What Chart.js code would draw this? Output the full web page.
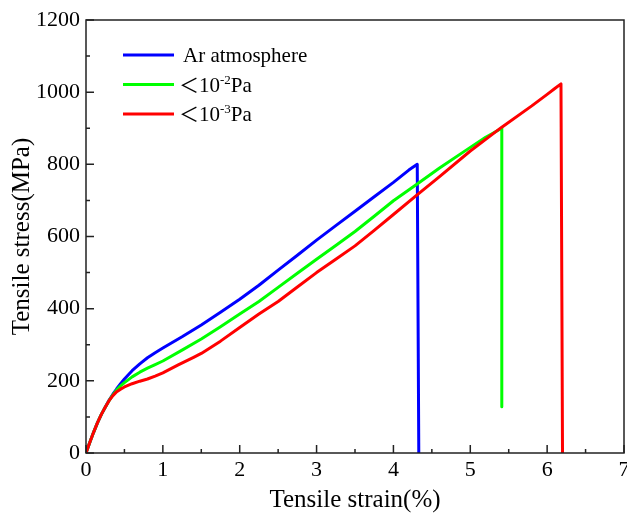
<!DOCTYPE html>
<html>
<head>
<meta charset="utf-8">
<title>Tensile stress-strain</title>
<style>
body { margin: 0; background: #fff; }
</style>
</head>
<body>
<canvas id="myChart" width="627" height="515"></canvas>
<script src="https://cdn.jsdelivr.net/npm/chart.js"></script>
<script>
// strain (%) / stress (MPa) for each condition
var arStrain = [0, 0.05, 0.1, 0.15, 0.2, 0.25, 0.3, 0.35, 0.4, 0.45, 0.5, 0.6, 0.7, 0.8, 0.9, 1.0, 1.25, 1.5, 1.75, 2.0, 2.25, 2.5, 2.75, 3.0, 3.25, 3.5, 3.75, 4.0, 4.2, 4.31, 4.33];
var arStress = [0, 30, 58, 84, 107, 127, 146, 163, 178, 192, 205, 228, 247, 264, 278, 291, 322, 355, 390, 426, 465, 507, 548, 590, 630, 670, 710, 750, 784, 800, 0];

var lowStrain = [0, 0.05, 0.1, 0.15, 0.2, 0.25, 0.3, 0.35, 0.4, 0.45, 0.5, 0.6, 0.7, 0.8, 0.9, 1.0, 1.25, 1.5, 1.75, 2.0, 2.25, 2.5, 2.75, 3.0, 3.25, 3.5, 3.75, 4.0, 4.3, 4.6, 5.0, 5.2, 5.41, 5.41];
var lowStress = [0, 30, 58, 84, 107, 127, 145, 161, 175, 186, 195, 211, 224, 235, 245, 255, 285, 316, 350, 385, 420, 459, 498, 537, 575, 614, 656, 699, 744, 790, 847, 875, 900, 128];

var highStrain = [0, 0.05, 0.1, 0.15, 0.2, 0.25, 0.3, 0.35, 0.4, 0.45, 0.5, 0.6, 0.7, 0.8, 0.9, 1.0, 1.2, 1.4, 1.5, 1.75, 2.0, 2.25, 2.5, 2.75, 3.0, 3.25, 3.5, 3.75, 4.0, 4.3, 4.6, 5.0, 5.41, 5.8, 6.0, 6.1, 6.18, 6.2];
var highStress = [0, 30, 58, 84, 107, 127, 145, 159, 170, 177, 183, 192, 199, 205, 213, 222, 244, 265, 276, 310, 348, 385, 420, 460, 500, 537, 574, 617, 661, 714, 766, 837, 903, 962, 994, 1010, 1023, 0];

var xTicks = [0, 1, 2, 3, 4, 5, 6, 7];
var yTicks = [0, 200, 400, 600, 800, 1000, 1200];

var serif = "'Liberation Serif', 'Times New Roman', serif";

function pts(xs, ys) {
    var out = [];
    for (var i = 0; i < xs.length; i++) out.push({x: xs[i], y: ys[i]});
    return out;
}

// frame + inward ticks on the bottom and left axes
var frameTicks = {
    id: 'frameTicks',
    afterDraw: function(chart) {
        var c = chart.ctx, a = chart.chartArea;
        var xs = chart.scales.x, ys = chart.scales.y;
        c.save();
        c.strokeStyle = '#222';
        c.lineWidth = 1.5;
        c.strokeRect(a.left, a.top, a.right - a.left, a.bottom - a.top);
        c.beginPath();
        for (var v = 0; v <= 7; v += 0.5) {
            var px = xs.getPixelForValue(v);
            var len = (v % 1 === 0) ? 8 : 4;
            c.moveTo(px, a.bottom);
            c.lineTo(px, a.bottom - len);
        }
        for (var w = 0; w <= 1200; w += 100) {
            var py = ys.getPixelForValue(w);
            var l2 = (w % 200 === 0) ? 8 : 4;
            c.moveTo(a.left, py);
            c.lineTo(a.left + l2, py);
        }
        c.stroke();
        c.restore();
    }
};

// legend in the upper left, with superscript exponents
var legendBox = {
    id: 'legendBox',
    afterDraw: function(chart) {
        var c = chart.ctx;
        var rows = [
            {color: '#0000ff', parts: [['Ar atmosphere', 0]]},
            {color: '#00ff00', parts: [['\uFF1C', 0], ['10', 0], ['-2', 1], ['Pa', 0]]},
            {color: '#ff0000', parts: [['\uFF1C', 0], ['10', 0], ['-3', 1], ['Pa', 0]]}
        ];
        c.save();
        c.textBaseline = 'alphabetic';
        c.fillStyle = '#000';
        rows.forEach(function(r, i) {
            var y = 55 + i * 29.5;
            c.strokeStyle = r.color;
            c.lineWidth = 3;
            c.beginPath();
            c.moveTo(123, y);
            c.lineTo(174, y);
            c.stroke();
            var x = i === 0 ? 183 : 181;
            r.parts.forEach(function(p) {
                if (p[1]) {
                    c.font = "13px " + serif;
                    c.fillText(p[0], x, y - 1);
                } else if (p[0] === '\uFF1C') {
                    c.font = "20px 'Noto Sans CJK SC', sans-serif";
                    c.fillText(p[0], x - 2, y + 8);
                    x -= 2;
                } else {
                    c.font = "21px " + serif;
                    c.fillText(p[0], x, y + 7);
                }
                x += c.measureText(p[0]).width;
            });
        });
        c.restore();
    }
};

var ctx = document.getElementById('myChart').getContext('2d');
var chart = new Chart(ctx, {
    type: 'scatter',
    data: {
        datasets: [{
            label: 'Ar atmosphere',
            data: pts(arStrain, arStress),
            borderColor: '#0000ff',
            order: 3
        }, {
            label: '<10-2Pa',
            data: pts(lowStrain, lowStress),
            borderColor: '#00ff00',
            order: 2
        }, {
            label: '<10-3Pa',
            data: pts(highStrain, highStress),
            borderColor: '#ff0000',
            order: 1
        }]
    },
    options: {
        responsive: false,
        animation: false,
        showLine: true,
        elements: {
            point: {radius: 0},
            line: {borderWidth: 3, tension: 0, borderJoinStyle: 'round', borderCapStyle: 'round'}
        },
        layout: {padding: {top: 20, right: 3, left: 0, bottom: 0}},
        plugins: {legend: {display: false}, tooltip: {enabled: false}},
        scales: {
            x: {
                type: 'linear', min: 0, max: 7,
                afterBuildTicks: function(s) { s.ticks = xTicks.map(function(v) { return {value: v}; }); },
                afterFit: function(s) { s.height = 62; s.paddingLeft = 0; s.paddingRight = 0; },
                ticks: {color: '#000', font: {family: serif, size: 22}, padding: 4,
                    callback: function(v) { return String(v); }},
                grid: {display: false, drawTicks: false},
                border: {display: false},
                title: {display: true, text: 'Tensile strain(%)', color: '#000', font: {family: serif, size: 25}, padding: {top: 0, bottom: 0}}
            },
            y: {
                type: 'linear', min: 0, max: 1200,
                afterBuildTicks: function(s) { s.ticks = yTicks.map(function(v) { return {value: v}; }); },
                afterFit: function(s) { s.width = 86; s.paddingTop = 0; s.paddingBottom = 0; },
                ticks: {color: '#000', font: {family: serif, size: 22}, padding: 6,
                    callback: function(v) { return String(v); }},
                grid: {display: false, drawTicks: false},
                border: {display: false},
                title: {display: true, text: 'Tensile stress(MPa)', color: '#000', font: {family: serif, size: 25}, padding: {top: 7, bottom: 0}}
            }
        }
    },
    plugins: [frameTicks, legendBox]
});
</script>
</body>
</html>
